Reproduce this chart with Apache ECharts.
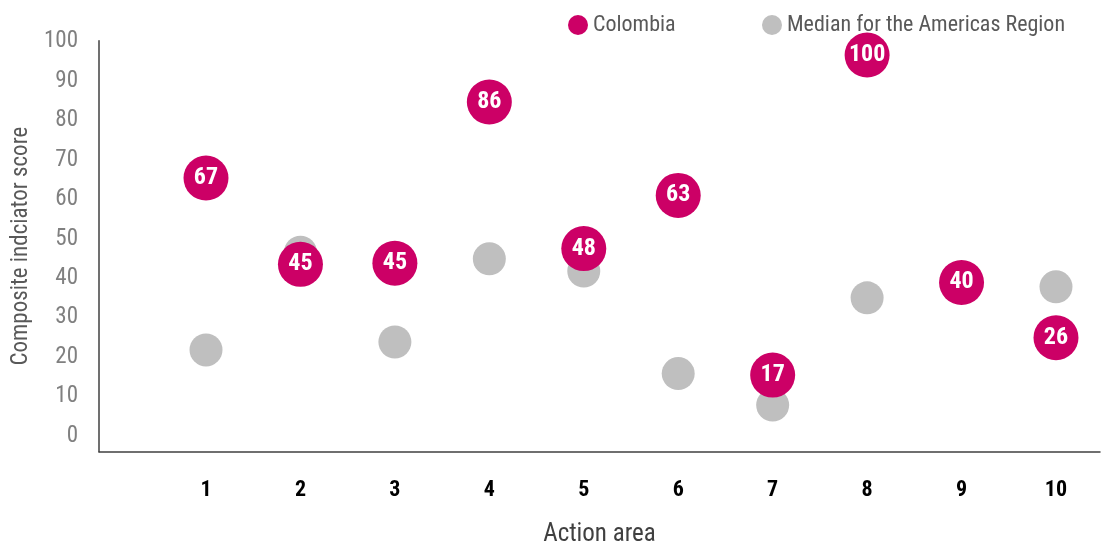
<!DOCTYPE html>
<html>
<head>
<meta charset="utf-8">
<script src="https://cdn.jsdelivr.net/npm/echarts@6/dist/echarts.min.js"></script>
<style>
  html, body { margin: 0; padding: 0; background: #fff; }
  #chart { width: 1102px; height: 548px; }
</style>
</head>
<body>
<div id="chart"></div>
<script>
// action areas 1..10
var areas = [1, 2, 3, 4, 5, 6, 7, 8, 9, 10];
// positions
var colombiaScore = [65.4, 43.5, 43.8, 84.7, 47.5, 61.0, 15.4, 96.6, 38.9, 24.9];
// labels printed inside the bubbles
var colombiaLabel = [67, 45, 45, 86, 48, 63, 17, 100, 40, 26];
var medianScore = [21.8, 46.6, 23.8, 44.9, 41.8, 15.8, 7.8, 35.0, 38.9, 37.8];
var yTicks = [0, 10, 20, 30, 40, 50, 60, 70, 80, 90, 100];

var FONT = '"Liberation Sans Narrow", "Arial Narrow", "Roboto Condensed", sans-serif';

var chart = echarts.init(document.getElementById('chart'));

function pairs(vals) {
    var out = [];
    for (var i = 0; i < areas.length; i++) {
        out.push([areas[i], vals[i]]);
    }
    return out;
}

var option = {
    animation: false,
    textStyle: { fontFamily: FONT },
    legend: [
        {
            left: 568, top: 14, padding: 0,
            icon: 'circle', itemWidth: 20, itemHeight: 20,
            data: ['Colombia'],
            textStyle: { fontFamily: FONT, fontSize: 22, color: '#595959' }
        },
        {
            left: 762, top: 14, padding: 0,
            icon: 'circle', itemWidth: 20, itemHeight: 20,
            data: ['Median for the Americas Region'],
            textStyle: { fontFamily: FONT, fontSize: 22, color: '#595959' }
        }
    ],
    grid: { left: 99, right: 2, top: 40.7, bottom: 96.3, containLabel: false, outerBoundsMode: 'none' },
    xAxis: {
        type: 'value',
        min: -0.133,
        max: 10.466,
        splitLine: { show: false },
        axisTick: { show: false },
        axisLine: { show: true, onZero: false, lineStyle: { color: '#404040', width: 1.5 } },
        axisLabel: {
            customValues: areas,
            margin: 28,
            fontFamily: FONT,
            fontSize: 22,
            fontWeight: 'bold',
            color: '#000'
        },
        name: 'Action area',
        nameLocation: 'middle',
        nameGap: 71,
        nameTextStyle: { fontFamily: FONT, fontSize: 25, color: '#404040' }
    },
    yAxis: {
        type: 'value',
        min: -4.03,
        max: 100.25,
        splitLine: { show: false },
        axisTick: { show: false },
        axisLine: { show: true, onZero: false, lineStyle: { color: '#404040', width: 1.5 } },
        axisLabel: {
            customValues: yTicks,
            margin: 21,
            fontFamily: FONT,
            fontSize: 23,
            color: '#808080',
            padding: [4, 0, 0, 0]
        },
        name: 'Composite indciator score',
        nameLocation: 'middle',
        nameGap: 65,
        nameTextStyle: { fontFamily: FONT, fontSize: 23, color: '#595959' }
    },
    series: [
        {
            name: 'Median for the Americas Region',
            type: 'scatter',
            symbol: 'circle',
            symbolSize: 33,
            itemStyle: { color: '#BFBFBF', opacity: 1 },
            data: pairs(medianScore),
            z: 2
        },
        {
            name: 'Colombia',
            type: 'scatter',
            symbol: 'circle',
            symbolSize: 45,
            itemStyle: { color: '#CC0066', opacity: 1 },
            label: {
                show: true,
                position: 'inside',
                color: '#fff',
                fontFamily: FONT,
                fontSize: 24,
                fontWeight: 'bold',
                formatter: function (p) { return colombiaLabel[p.dataIndex]; }
            },
            data: pairs(colombiaScore),
            z: 3
        }
    ]
};

chart.setOption(option);
</script>
</body>
</html>
